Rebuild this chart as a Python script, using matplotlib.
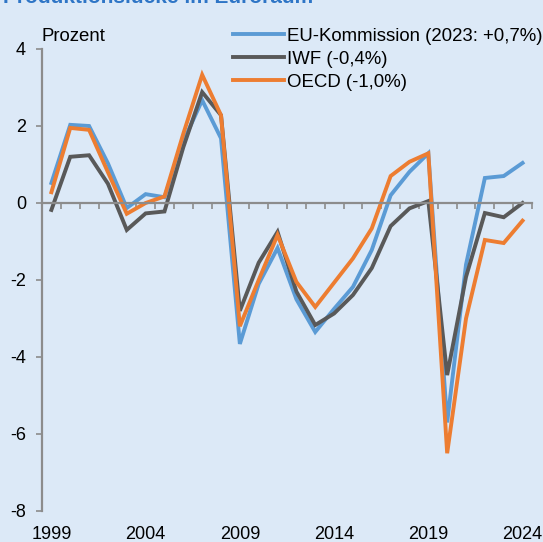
import numpy as np
import matplotlib.pyplot as plt

plt.rcParams['font.family'] = ['Liberation Sans', 'DejaVu Sans']

# Produktionslücke in % des Produktionspotenzials
years = list(range(1999, 2025))
eu = [0.52, 2.03, 2.0, 1.03, -0.13, 0.23, 0.15, 1.6, 2.67, 1.68,
      -3.66, -2.1, -1.17, -2.5, -3.35, -2.75, -2.18, -1.22, 0.2, 0.81,
      1.29, -5.7, -1.6, 0.65, 0.7, 1.04]
iwf = [-0.18, 1.2, 1.24, 0.5, -0.7, -0.27, -0.22, 1.45, 2.88, 2.28,
       -2.8, -1.55, -0.75, -2.3, -3.17, -2.87, -2.39, -1.69, -0.6, -0.14,
       0.05, -4.47, -1.92, -0.26, -0.37, 0.0]
oecd = [0.28, 1.95, 1.9, 0.8, -0.28, 0.0, 0.17, 1.8, 3.33, 2.28,
        -3.2, -2.0, -0.83, -2.05, -2.7, -2.07, -1.44, -0.66, 0.7, 1.07,
        1.29, -6.5, -3.0, -0.96, -1.04, -0.46]
labels = ['EU-Kommission (2023: +0,7%)', 'IWF (-0,4%)', 'OECD (-1,0%)']
colors = ['#5B9BD5', '#595959', '#ED7D31']
year_labels = [1999, 2004, 2009, 2014, 2019, 2024]

bg = '#DCE9F7'
fig = plt.figure(figsize=(5.43, 5.42), dpi=100, facecolor=bg)
ax = fig.add_axes([0.0773, 0.0572, 0.9024, 0.8524], facecolor=bg)

for series, lab, col in zip([eu, iwf, oecd], labels, colors):
    ax.plot(years, series, color=col, lw=2.8, label=lab, solid_joinstyle='miter')

ax.set_xlim(1998.5, 2024.5)
ax.set_ylim(-8, 4)
ax.set_yticks([-8, -6, -4, -2, 0, 2, 4])
ax.set_yticklabels(['-8', '-6', '-4', '-2', '0', '2', '4'])

for s in ['top', 'right']:
    ax.spines[s].set_visible(False)
ax.spines['left'].set_color('#8C8C8C')
ax.spines['left'].set_linewidth(1.6)
ax.spines['bottom'].set_color('#8C8C8C')
ax.spines['bottom'].set_linewidth(1.6)
ax.spines['bottom'].set_position(('data', 0))

ax.set_xticks(np.arange(1998.5, 2025, 1))
ax.set_xticklabels([])
ax.tick_params(axis='x', direction='out', length=4, width=1.2, color='#8C8C8C')
ax.tick_params(axis='y', direction='out', length=4, width=1.2, color='#8C8C8C',
               labelsize=13, pad=7.5)

sec = ax.secondary_xaxis(0)
sec.set_xticks(year_labels)
sec.set_xticklabels([str(y) for y in year_labels])
sec.tick_params(length=0, labelsize=13, pad=11)
sec.spines['bottom'].set_visible(False)

ax.text(0.0, 1.027, 'Prozent', transform=ax.transAxes, fontsize=13.4,
        ha='left', va='center')

leg = ax.legend(loc='upper left', bbox_to_anchor=(0.375, 1.062), frameon=False,
                fontsize=13.4, handlelength=2.75, handletextpad=0.15,
                labelspacing=0.32, borderaxespad=0)

fig.text(0.005, 0.995, 'Produktionslücke im Euroraum', fontsize=15,
         fontweight='bold', color='#2E75C6', ha='left', va='baseline')

fig.savefig('out.png', dpi=100, facecolor=bg)
